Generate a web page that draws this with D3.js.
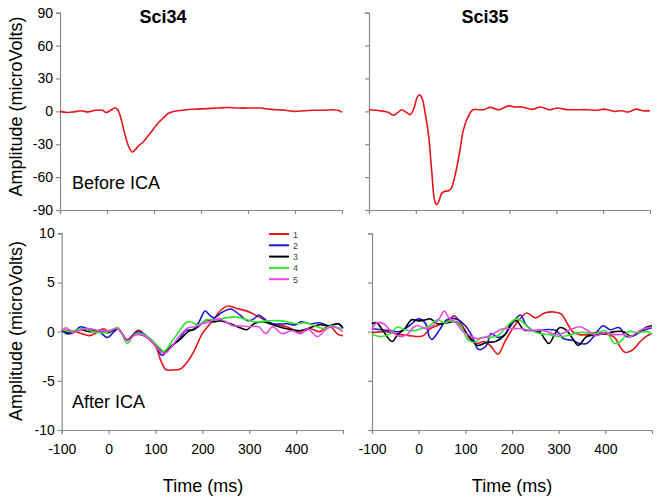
<!DOCTYPE html>
<html><head><meta charset="utf-8">
<script src="https://cdn.jsdelivr.net/npm/d3@7"></script>
<style>
body{margin:0;background:#fff;}
text{font-family:"Liberation Sans",Arial,sans-serif;}
</style></head>
<body><svg id="c" width="660" height="503"></svg>
<script>
// ---- data ----
const panelTitles = ["Sci34", "Sci35"];
const rowLabels = ["Before ICA", "After ICA"];
const legendLabels = ["1", "2", "3", "4", "5"];
const seriesColors = ["#e8151b", "#1a1ad0", "#000000", "#2ee82e", "#e84ae8"];
const xTicks = [-100, 0, 100, 200, 300, 400];
const yTicksTop = [90, 60, 30, 0, -30, -60, -90];
const yTicksBottom = [10, 5, 0, -5, -10];

// Before ICA, [time ms, microVolts]
const sci34Before = [[-100,0],[-85,-1],[-70,-0.5],[-55,0.5],[-40,-0.5],[-25,1],[-10,1],[-2,-1],[8,1],[16,3],[22,2],[28,-4],[34,-14],[40,-24],[47,-33],[53,-37],[60,-35],[68,-31],[77,-28],[88,-22],[99,-16],[110,-10],[120,-6],[130,-2],[138,-0.5],[150,0.5],[169,1.5],[190,2],[212,2.5],[235,3],[255,3.5],[280,3],[300,3],[326,3],[345,2],[361,1.5],[380,1],[397,0],[420,0.5],[440,1],[460,1],[482,1.5],[494,0.5],[500,-1]];
const sci35Before = [[-100,1.5],[-85,1],[-69,0],[-58,-1],[-48,-3.6],[-38,-1],[-30,1.5],[-20,-1],[-12,-3],[-4,3],[3,13],[8,15],[14,11],[20,-2],[27,-21],[34,-55],[41,-83],[45,-85],[50,-81],[55,-75],[62,-73],[70,-72.5],[76,-70],[84,-58],[94,-36],[101,-18],[112,-4.5],[122,1.5],[135,1.5],[145,1.5],[159,3.6],[177,1.5],[198,5],[212,4],[226,4],[248,1.8],[266,4],[284,1.5],[302,3],[323,1.5],[345,1.5],[366,1.5],[385,1],[401,2],[414,1],[426,0],[440,0.5],[454,-0.6],[471,2],[485,0.5],[500,0.6]];

// After ICA, components 1..5
const sci34After1 = [[-100,0.2],[-70,0],[-40,-0.4],[-10,0.3],[0,0],[20,0.3],[40,-0.8],[64,0.15],[80,-0.5],[100,-1.5],[112,-3],[122,-3.85],[137,-3.9],[153,-3.8],[166,-3.2],[182,-2],[200,-0.2],[220,1],[240,2.2],[255,2.6],[270,2.4],[300,2],[320,1.5],[350,0.8],[380,0.5],[410,-0.1],[430,0.3],[450,0],[470,0.6],[490,-0.3],[500,-0.4]];
const sci34After2 = [[-100,0.2],[-90,-0.2],[-75,-0.1],[-60,0.5],[-40,0.2],[-20,0],[-3,-0.6],[10,-0.1],[20,0.3],[40,-0.9],[55,-0.2],[65,0],[80,-0.4],[100,-1.3],[114,-2.4],[130,-1.7],[150,-0.8],[165,0.1],[180,0.2],[192,0.9],[206,2.1],[215,1.7],[225,1.4],[240,1.9],[260,2.3],[280,1.7],[296,1.1],[310,1.3],[320,1.7],[335,1.2],[350,0.8],[380,0.8],[400,0.7],[410,1],[430,0.8],[450,0.9],[470,0.6],[490,0.8],[500,0.3]];
const sci34After3 = [[-100,0.1],[-80,-0.1],[-60,0.2],[-40,0],[-20,0.1],[0,-0.1],[20,0.3],[40,-0.9],[55,-0.3],[70,-0.3],[90,-0.8],[110,-1.8],[120,-2.1],[135,-1.4],[150,-0.9],[170,0],[185,0.3],[200,0.9],[210,1.2],[220,1],[240,1.1],[260,0.8],[280,0.4],[295,0.2],[310,0.8],[330,1],[350,0.7],[380,0.3],[410,0.1],[430,0.4],[450,0.7],[470,0.6],[490,0.8],[500,0.4]];
const sci34After4 = [[-100,0.2],[-80,0],[-60,0.3],[-40,0.1],[-20,-0.1],[0,0],[20,0.4],[40,-1.2],[55,-0.3],[70,-0.2],[90,-0.8],[110,-1.7],[118,-2],[135,-1],[150,0],[165,0.9],[175,1],[190,0.7],[210,1.2],[230,1.2],[250,1.4],[270,1.5],[290,1.3],[310,1],[340,1.1],[370,1.1],[400,0.8],[420,0.9],[440,0.6],[460,0.3],[475,0.6],[490,0.4],[500,0.3]];
const sci34After5 = [[-100,0.1],[-90,0.4],[-75,-0.1],[-60,0.2],[-40,0.3],[-20,0.1],[0,0.1],[20,0.3],[40,-0.9],[55,-0.4],[70,-0.3],[90,-0.9],[110,-2],[120,-2.2],[135,-1.5],[150,-0.5],[170,0.4],[185,0.5],[200,0.8],[215,1],[235,1.3],[250,1],[265,0.6],[280,0.6],[300,0.5],[320,0.5],[335,-0.2],[350,0.5],[370,-0.2],[390,0.1],[410,-0.2],[425,0.3],[445,-0.5],[465,0.3],[480,0.5],[500,0]];

const sci35After1 = [[-100,-0.1],[-70,0],[-40,-0.3],[-20,-0.4],[0,-0.5],[10,-0.4],[25,0.3],[50,0.8],[65,1.2],[76,1.6],[88,1],[100,0.1],[110,-0.8],[125,-1.2],[140,-1],[155,-1.5],[170,-2.3],[185,-1],[200,0.2],[215,1.2],[232,1.9],[250,1.4],[270,1.9],[290,2],[305,1.8],[320,0.7],[330,0],[345,-0.3],[360,-0.3],[380,-0.1],[400,-0.2],[420,-0.6],[430,-1.4],[442,-2.1],[460,-1.8],[475,-1],[490,-0.4],[500,-0.2]];
const sci35After2 = [[-100,0.3],[-80,0.2],[-60,0.1],[-40,0],[-20,0.6],[0,1.3],[15,0.8],[22,-0.4],[28,-0.8],[45,0.2],[60,1.2],[80,1.3],[100,0.6],[115,-0.5],[128,-1.8],[145,-1.4],[155,-0.2],[170,-0.6],[185,-0.3],[200,0.8],[218,1.7],[230,0.7],[250,0],[270,0.2],[285,0.2],[295,0.1],[310,-0.7],[330,-0.9],[345,-1.2],[360,-1.2],[375,-0.5],[395,0.6],[410,0.2],[430,0.4],[445,-0.5],[460,-0.4],[480,0.1],[500,0.4]];
const sci35After3 = [[-100,0.8],[-90,0.9],[-75,0],[-57,-1],[-45,-0.3],[-30,0.3],[-15,1.2],[0,1.1],[15,1.2],[25,1.3],[40,0.8],[60,0.9],[80,1],[95,0.3],[110,-0.6],[126,-1.4],[145,-1.1],[165,-1],[185,-0.3],[200,1],[210,1.1],[225,0.2],[245,0.1],[260,-0.1],[279,-1.2],[292,-0.2],[302,0.4],[315,0.2],[330,-0.7],[342,-1.4],[360,-0.5],[380,-0.3],[400,-0.2],[420,0],[440,0],[455,-0.5],[470,-0.1],[490,0.5],[500,0.6]];
const sci35After4 = [[-100,-0.3],[-80,-0.5],[-60,-0.2],[-45,0.5],[-30,0.2],[-10,0.1],[5,0.3],[20,0.5],[40,1.2],[55,0.9],[70,1.1],[90,0.6],[105,-0.8],[120,-1.1],[135,-0.6],[150,-0.6],[170,-0.4],[190,0.6],[210,1.3],[225,0.9],[240,0.2],[260,-0.2],[280,-0.3],[300,-0.5],[320,-0.4],[340,-0.1],[360,-0.1],[380,-0.2],[400,0.1],[420,-1.2],[435,-0.9],[450,0],[470,-0.1],[490,0],[500,-0.3]];
const sci35After5 = [[-100,0.2],[-90,0.9],[-75,0.8],[-60,0.1],[-40,-0.5],[-25,-0.3],[-10,0.5],[0,0.6],[15,0.3],[30,0.6],[45,1.4],[55,2.1],[65,1.4],[80,0.9],[95,0],[110,-0.4],[125,-0.7],[140,-0.6],[160,-0.2],[180,0.3],[200,0.3],[220,0.3],[240,0.1],[260,0.2],[280,-0.1],[300,-0.3],[330,0.3],[345,0.5],[360,0.2],[380,-0.4],[400,-0.1],[420,-0.3],[440,-0.3],[455,-0.5],[470,0],[490,0.4],[500,0.4]];

// ---- drawing ----
const svg = d3.select("#c");
svg.append("rect").attr("width",660).attr("height",503).attr("fill","#fff");
const axisColor = "#8a8a8a";
const plainFmt = d => String(d);

const panels = [
  {x0:60, x1:342, y0:12.7, y1:210, yDom:[-90,90], yTicks:yTicksTop, yLab:true, xLab:false, series:[sci34Before], colors:[seriesColors[0]]},
  {x0:369, x1:650, y0:12.7, y1:210, yDom:[-90,90], yTicks:yTicksTop, yLab:false, xLab:false, series:[sci35Before], colors:[seriesColors[0]]},
  {x0:61.7, x1:343, y0:233.3, y1:430, yDom:[-10,10], yTicks:yTicksBottom, yLab:true, xLab:true, series:[sci34After1,sci34After2,sci34After3,sci34After4,sci34After5], colors:seriesColors},
  {x0:372, x1:652, y0:233.3, y1:430, yDom:[-10,10], yTicks:yTicksBottom, yLab:false, xLab:true, series:[sci35After1,sci35After2,sci35After3,sci35After4,sci35After5], colors:seriesColors}
];

panels.forEach(p => {
  const x = d3.scaleLinear().domain([-100,500]).range([p.x0,p.x1]);
  const y = d3.scaleLinear().domain(p.yDom).range([p.y1,p.y0]);
  const g = svg.append("g");
  const ya = d3.axisLeft(y).tickValues(p.yTicks).tickSize(4).tickPadding(3)
    .tickFormat(p.yLab ? plainFmt : () => "");
  const yg = g.append("g").attr("transform",`translate(${p.x0},0)`).call(ya);
  const xa = d3.axisBottom(x).tickValues(xTicks).tickSize(4).tickPadding(10)
    .tickFormat(p.xLab ? plainFmt : () => "");
  const xg = g.append("g").attr("transform",`translate(0,${p.y1})`).call(xa);
  [yg,xg].forEach(a => {
    a.select(".domain").attr("stroke",axisColor).attr("stroke-width",1.2);
    a.selectAll(".tick line").attr("stroke",axisColor).attr("stroke-width",1.2);
    a.selectAll(".tick text").attr("fill","#000").style("font-size","14px")
      .style("font-family","'Liberation Sans', Arial, sans-serif");
  });
  const line = d3.line().x(d=>x(d[0])).y(d=>y(d[1])).curve(d3.curveCatmullRom.alpha(0.5));
  p.series.forEach((s,i) => {
    g.append("path").datum(s).attr("d",line).attr("fill","none")
      .attr("stroke",p.colors[i]).attr("stroke-width",1.6).attr("stroke-linejoin","round");
  });
});

// titles
svg.append("text").attr("x",163).attr("y",23).attr("text-anchor","middle")
  .style("font-size","18px").style("font-weight","bold").text(panelTitles[0]);
svg.append("text").attr("x",485).attr("y",23).attr("text-anchor","middle")
  .style("font-size","18px").style("font-weight","bold").text(panelTitles[1]);

// row labels
svg.append("text").attr("x",72).attr("y",189).style("font-size","18px").text(rowLabels[0]);
svg.append("text").attr("x",72).attr("y",408).style("font-size","18px").text(rowLabels[1]);

// y axis labels
[106.5, 331].forEach(cy => {
  svg.append("text").attr("transform",`translate(22,${cy}) rotate(-90)`)
    .attr("text-anchor","middle").style("font-size","18px").text("Amplitude (microVolts)");
});
// x axis labels
svg.append("text").attr("x",203).attr("y",492).attr("text-anchor","middle").style("font-size","18px").text("Time (ms)");
svg.append("text").attr("x",512).attr("y",492).attr("text-anchor","middle").style("font-size","18px").text("Time (ms)");

// legend
const lg = svg.append("g");
legendLabels.forEach((l,i) => {
  const yy = 234 + i*11.3;
  lg.append("line").attr("x1",269).attr("x2",289).attr("y1",yy).attr("y2",yy)
    .attr("stroke",seriesColors[i]).attr("stroke-width",2);
  lg.append("text").attr("x",293).attr("y",yy+3.5).style("font-size","9px").attr("fill","#444").text(l);
});
</script></body></html>
